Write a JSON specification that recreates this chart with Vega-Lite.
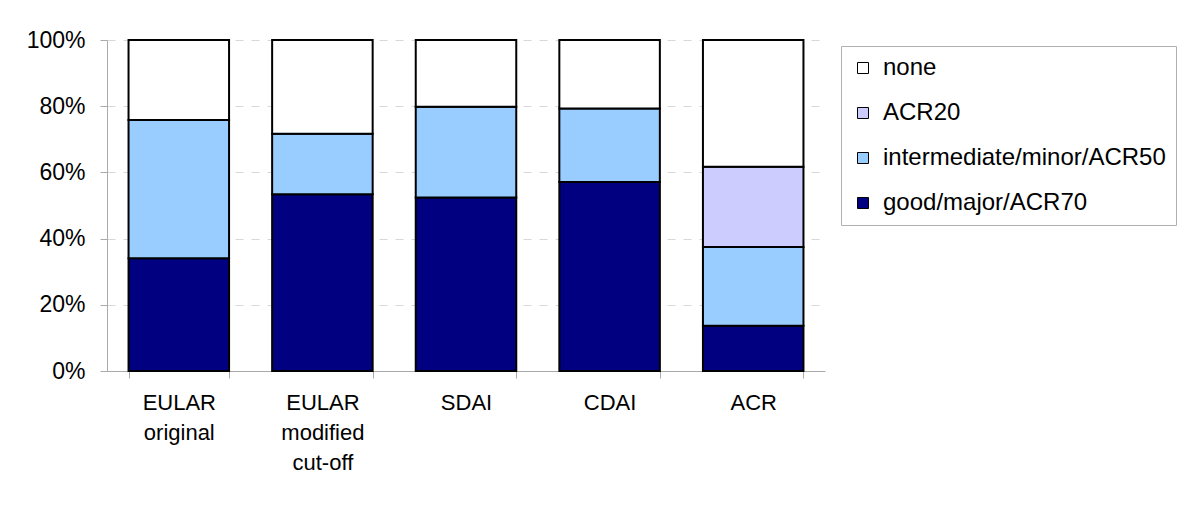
{
  "$schema": "https://vega.github.io/schema/vega-lite/v6.json",
  "autosize": {"type": "none"},
  "width": 718,
  "height": 331,
  "padding": {"left": 107, "top": 40, "right": 375, "bottom": 142},
  "background": "white",
  "config": {
    "view": {"stroke": null},
    "font": "Liberation Sans"
  },
  "data": {
    "values": [
      {"method": "EULAR original", "response": "good/major/ACR70", "pct": 34.1},
      {"method": "EULAR original", "response": "intermediate/minor/ACR50", "pct": 41.7},
      {"method": "EULAR original", "response": "none", "pct": 24.2},
      {"method": "EULAR modified cut-off", "response": "good/major/ACR70", "pct": 53.4},
      {"method": "EULAR modified cut-off", "response": "intermediate/minor/ACR50", "pct": 18.3},
      {"method": "EULAR modified cut-off", "response": "none", "pct": 28.3},
      {"method": "SDAI", "response": "good/major/ACR70", "pct": 52.4},
      {"method": "SDAI", "response": "intermediate/minor/ACR50", "pct": 27.4},
      {"method": "SDAI", "response": "none", "pct": 20.2},
      {"method": "CDAI", "response": "good/major/ACR70", "pct": 57.1},
      {"method": "CDAI", "response": "intermediate/minor/ACR50", "pct": 22.2},
      {"method": "CDAI", "response": "none", "pct": 20.7},
      {"method": "ACR", "response": "good/major/ACR70", "pct": 13.7},
      {"method": "ACR", "response": "intermediate/minor/ACR50", "pct": 23.8},
      {"method": "ACR", "response": "ACR20", "pct": 24.2},
      {"method": "ACR", "response": "none", "pct": 38.3}
    ]
  },
  "transform": [
    {"calculate": "indexof(['good/major/ACR70','intermediate/minor/ACR50','ACR20','none'], datum.response)", "as": "stackOrder"}
  ],
  "mark": {"type": "bar", "stroke": "black", "strokeWidth": 2},
  "encoding": {
    "x": {
      "field": "method",
      "type": "nominal",
      "sort": ["EULAR original", "EULAR modified cut-off", "SDAI", "CDAI", "ACR"],
      "scale": {"paddingInner": 0.3, "paddingOuter": 0.15},
      "axis": {
        "title": null,
        "labelAngle": 0,
        "labelExpr": "split(datum.label, ' ')",
        "labelFontSize": 22,
        "labelColor": "black",
        "labelLineHeight": 30,
        "labelPadding": 14,
        "labelBaseline": "top",
        "tickBand": "extent",
        "tickSize": 7,
        "tickColor": "#aaaaaa",
        "domainColor": "#aaaaaa",
        "grid": false
      }
    },
    "y": {
      "field": "pct",
      "type": "quantitative",
      "stack": "normalize",
      "scale": {"domain": [0, 1]},
      "axis": {
        "title": null,
        "values": [0, 0.2, 0.4, 0.6, 0.8, 1],
        "format": ".0%",
        "labelFontSize": 23,
        "labelColor": "black",
        "labelPadding": 15,
        "tickSize": 7,
        "tickColor": "#aaaaaa",
        "domainColor": "#aaaaaa",
        "grid": true,
        "gridColor": "#d8d8d8",
        "gridDash": [8, 8]
      }
    },
    "color": {
      "field": "response",
      "type": "nominal",
      "scale": {
        "domain": ["none", "ACR20", "intermediate/minor/ACR50", "good/major/ACR70"],
        "range": ["#ffffff", "#ccccff", "#99ccff", "#000080"]
      },
      "legend": {
        "title": null,
        "orient": "none",
        "legendX": 734,
        "legendY": 6,
        "symbolType": "square",
        "symbolSize": 121,
        "symbolStrokeColor": "black",
        "symbolStrokeWidth": 1,
        "labelFontSize": 24,
        "labelColor": "black",
        "labelOffset": 8,
        "rowPadding": 21,
        "padding": 10,
        "strokeColor": "#b0b0b0",
        "fillColor": "white",
        "labelLimit": 400
      }
    },
    "order": {"field": "stackOrder", "type": "quantitative"}
  }
}
